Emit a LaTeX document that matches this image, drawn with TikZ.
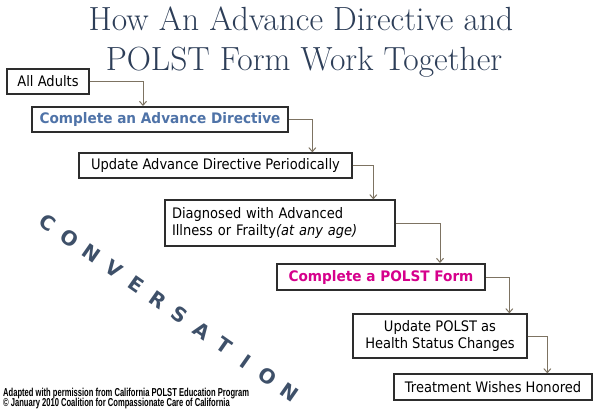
\documentclass[tikz,border=0pt]{standalone}
\usepackage{fontspec}
\usetikzlibrary{arrows.meta}
\newfontfamily\boxfont[FakeStretch=0.9]{DejaVu Sans}
\newfontfamily\keyfont[FakeStretch=0.94]{DejaVu Sans}
\newfontfamily\convfont{DejaVu Sans}
\newfontfamily\footfont[FakeStretch=0.66]{Liberation Sans}
\definecolor{titlecol}{RGB}{45,62,88}
\definecolor{adblue}{RGB}{79,115,168}
\definecolor{polstmag}{RGB}{214,0,140}
\definecolor{arrcol}{RGB}{125,115,98}
\definecolor{convcol}{RGB}{62,80,105}
\definecolor{boxline}{RGB}{45,45,45}
\begin{document}
\begin{tikzpicture}[x=1pt,y=-1pt,
  box/.style={draw=boxline, line width=1.3pt, fill=white, inner sep=0pt,
    font=\boxfont\fontsize{14.5}{17}\selectfont, text=black, minimum height=25pt},
  keybox/.style={box, line width=2pt, font=\keyfont\bfseries\fontsize{14.5}{17}\selectfont},
  arr/.style={draw=arrcol, line width=1pt, -{Straight Barb[length=4pt,width=7pt]}},
  conv/.style={font=\convfont\bfseries\fontsize{20}{20}\selectfont, text=convcol, rotate=-35},
  titletext/.style={font=\fontsize{33.5}{38}\selectfont, text=titlecol, anchor=base},
  foottext/.style={font=\footfont\bfseries\fontsize{11.5}{12}\selectfont, anchor=base west, inner sep=0pt}
]
\useasboundingbox (0,0) rectangle (600,408);
% title
\node[titletext] (t1) at (301,30) {How An Advance Directive and};
\node[titletext] (t2) at (304,70) {POLST Form Work Together};
% boxes
\node[box, minimum width=82pt] (b1) at (48,81.5) {All Adults};
\node[keybox, minimum width=256pt, text=adblue] (b2) at (160,119.5) {Complete an Advance Directive};
\node[box, minimum width=273pt] (b3) at (215.5,165.5) {Update Advance Directive Periodically};
\node[box, minimum width=230pt, minimum height=46pt, text width=216pt, align=left] (b4) at (280,223)
  {Diagnosed with Advanced\\Illness or Frailty\textit{(at any age)}};
\node[keybox, minimum width=208pt, minimum height=26pt, text=polstmag] (b5) at (381,277) {Complete a POLST Form};
\node[box, minimum width=174pt, minimum height=44pt, align=center] (b6) at (440,336)
  {Update POLST as\\Health Status Changes};
\node[box, minimum width=198pt, minimum height=26pt] (b7) at (493,387) {Treatment Wishes Honored};
% connectors
\draw[arr] (b1.east) -| ([xshift=112pt]b2.north west);
\draw[arr] (b2.east) -| ([xshift=234pt]b3.north west);
\draw[arr] (b3.east) -| ([xshift=209pt]b4.north west);
\draw[arr] (b4.east) -| ([xshift=164pt]b5.north west);
\draw[arr] (b5.east) -| ([xshift=157pt]b6.north west);
\draw[arr] (b6.east) -| ([xshift=154pt]b7.north west);
% conversation
\foreach \L [count=\i from 0] in {C,O,N,V,E,R,S,A,T,I,O,N}
  \node[conv] (cv\i) at ({48+\i*22},{223+\i*15.36}) {\L};
% footer
\node[foottext] (f1) at (3,396) {Adapted with permission from California POLST Education Program};
\node[foottext] (f2) at (3,406) {© January 2010 Coalition for Compassionate Care of California};
\end{tikzpicture}
\end{document}
